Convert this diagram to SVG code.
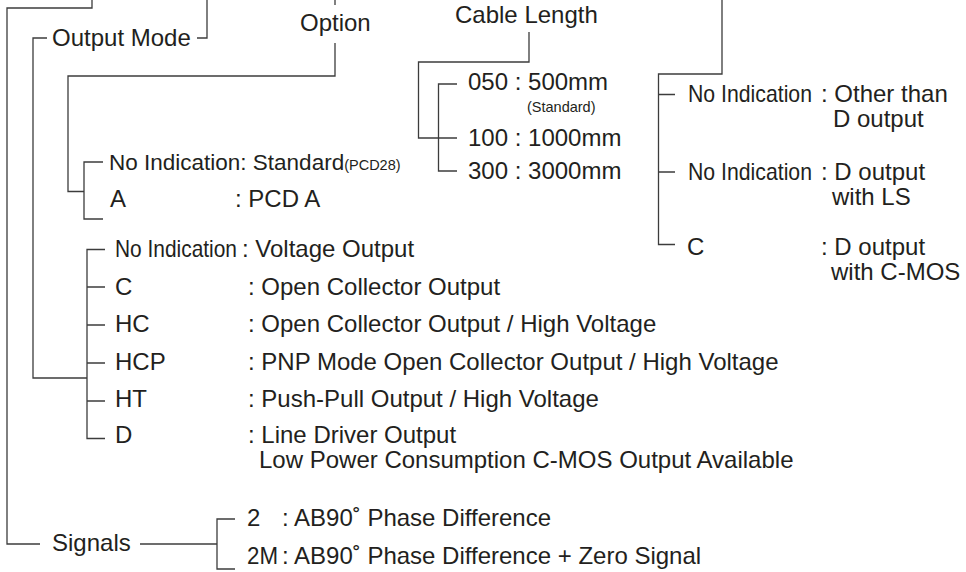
<svg xmlns="http://www.w3.org/2000/svg" width="966" height="572" viewBox="0 0 966 572">
<style>
  text { font-family: "Liberation Sans", Arial, Helvetica, sans-serif; fill: #231f20; font-size: 24px; }
  .s { font-size: 14.5px; }
  .ln { fill: none; stroke: #3c3c3c; stroke-width: 1.3; }
</style>
<rect width="966" height="572" fill="#ffffff"/>
<g id="connectors" class="ln">
  <path d="M92,0 V8 H7 V544 H40"/>
  <path d="M207,0 V38 H197"/>
  <path d="M47,38 H33 V378 H87"/>
  <path d="M335,0 V5"/>
  <path d="M335,43 V76 H68 V191.5 H84"/>
  <path d="M103,162 H84 V219 H103"/>
  <path d="M105,249.5 H87 V438.5 H105"/>
  <path d="M87,287 H105 M87,325 H105 M87,363 H105 M87,401 H105"/>
  <path d="M529,32 V62 H418.5 V138 H457"/>
  <path d="M457,84 H438.5 V171 H457"/>
  <path d="M722,0 V74 H658.5 V244.5 H675"/>
  <path d="M658.5,94.5 H675 M658.5,172 H675"/>
  <path d="M140,544 H217"/>
  <path d="M235,519 H217 V569 H235"/>
</g>
<g id="output-mode"><text x="52" y="46">Output Mode</text></g>
<g id="option"><text x="300" y="31">Option</text></g>
<g id="cable-length"><text x="455" y="23">Cable Length</text></g>
<g id="signals"><text x="52" y="551">Signals</text></g>

<g id="option-none"><text x="109" y="170" style="font-size:22.5px">No Indication: Standard<tspan class="s">(PCD28)</tspan></text></g>
<g id="option-a"><text x="110" y="207">A</text><text x="235" y="207">: PCD A</text></g>

<g id="mode-none"><text x="115" y="257" textLength="122" lengthAdjust="spacingAndGlyphs">No Indication</text><text x="242" y="257">: Voltage Output</text></g>
<g id="mode-c"><text x="115" y="295">C</text><text x="248" y="295">: Open Collector Output</text></g>
<g id="mode-hc"><text x="115" y="332">HC</text><text x="248" y="332">: Open Collector Output / High Voltage</text></g>
<g id="mode-hcp"><text x="115" y="370">HCP</text><text x="248" y="370">: PNP Mode Open Collector Output / High Voltage</text></g>
<g id="mode-ht"><text x="115" y="407">HT</text><text x="248" y="407">: Push-Pull Output / High Voltage</text></g>
<g id="mode-d"><text x="115" y="443">D</text><text x="248" y="443">: Line Driver Output</text><text x="259" y="468">Low Power Consumption C-MOS Output Available</text></g>

<g id="cable-050"><text x="468" y="89.5">050 : 500mm</text><text class="s" x="527" y="112">(Standard)</text></g>
<g id="cable-100"><text x="468" y="145.5">100 : 1000mm</text></g>
<g id="cable-300"><text x="468" y="178.5">300 : 3000mm</text></g>

<g id="ind-none-1"><text x="688" y="102" textLength="124" lengthAdjust="spacingAndGlyphs">No Indication</text><text x="821" y="102">: Other than</text><text x="833" y="127">D output</text></g>
<g id="ind-none-2"><text x="688" y="180" textLength="124" lengthAdjust="spacingAndGlyphs">No Indication</text><text x="821" y="180">: D output</text><text x="832" y="205">with LS</text></g>
<g id="ind-c"><text x="687" y="255">C</text><text x="821" y="255">: D output</text><text x="831" y="280">with C-MOS</text></g>

<g id="sig-2"><text x="247" y="525.5">2</text><text x="282" y="525.5">: AB90˚ Phase Difference</text></g>
<g id="sig-2m"><text x="247" y="563.5" textLength="31" lengthAdjust="spacingAndGlyphs">2M</text><text x="282" y="563.5">: AB90˚ Phase Difference + Zero Signal</text></g>
</svg>
